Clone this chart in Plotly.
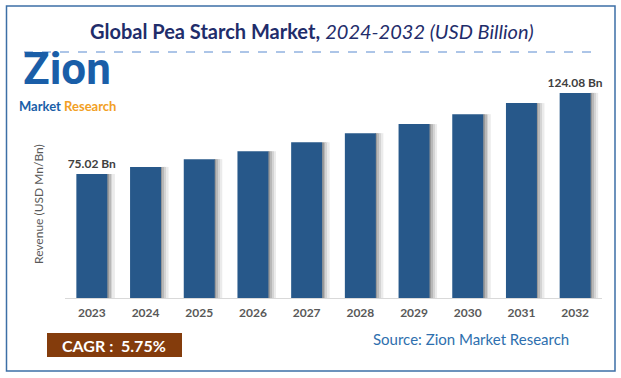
import plotly.graph_objects as go

years = ["2023", "2024", "2025", "2026", "2027", "2028", "2029", "2030", "2031", "2032"]
revenue = [75.02, 79.3, 84.0, 88.8, 94.2, 99.7, 105.2, 111.2, 117.9, 124.08]
label_text = ["75.02 Bn", "", "", "", "", "", "", "", "", "124.08 Bn"]

W, H = 621, 378
L, R, T, B = 65, 19, 75, 80
pw, ph = W - L - R, H - T - B


def px(x):
    return (x - L) / pw


def py(y):
    return (H - B - y) / ph


BAR = "#27588a"
FONT = "Lato"
bw = 0.577

fig = go.Figure()

shadow_cols = ["#999999", "#b8b8b8", "#d4d4d4", "#ebebeb"]
for k, c in enumerate(shadow_cols):
    fig.add_trace(go.Bar(
        x=years, y=revenue, width=0.035, offset=bw / 2 + k * 0.035,
        marker=dict(color=c, line=dict(width=0)), hoverinfo="skip", showlegend=False))

fig.add_trace(go.Bar(
    x=years, y=revenue, width=bw, offset=-bw / 2,
    marker=dict(color=BAR, line=dict(width=0)),
    text=label_text, textposition="outside", cliponaxis=False, constraintext="none",
    textfont=dict(family=FONT, size=12, color="#404040", weight="bold"),
    showlegend=False))

fig.update_layout(
    width=W, height=H, margin=dict(l=L, r=R, t=T, b=B),
    paper_bgcolor="white", plot_bgcolor="white", barmode="overlay",
    font=dict(family=FONT),
    xaxis=dict(showline=True, linecolor="#d9d9d9", linewidth=1, ticks="",
               tickfont=dict(family=FONT, size=12, color="#595959", weight="bold"),
               ticklabelstandoff=4,
               showgrid=False, range=[-0.5, 9.5], fixedrange=True),
    yaxis=dict(visible=False, range=[0, ph / 1.653], showgrid=False),
)

shapes = [
    dict(type="rect", xref="paper", yref="paper", x0=px(6.5), x1=px(615), y0=py(371), y1=py(6),
         line=dict(color="#3c6fa6", width=1.5), fillcolor="rgba(0,0,0,0)"),
    dict(type="line", xref="paper", yref="paper", x0=px(24), x1=px(596), y0=py(52), y1=py(52),
         line=dict(color="#5b8bd0", width=1, dash="dash")),
    dict(type="rect", xref="paper", yref="paper", x0=px(47), x1=px(182), y0=py(357), y1=py(333),
         line=dict(width=0), fillcolor="#843c0c"),
]
fig.update_layout(shapes=shapes)

ann = [
    dict(text="<b>Global Pea Starch Market,</b> <i>2024-2032 (USD Billion)</i>",
         x=px(312), y=py(31), font=dict(family=FONT, size=20, color="#1f2d6b")),
    dict(text="Revenue (USD Mn/Bn)", x=px(38), y=py(204), textangle=-90,
         font=dict(family=FONT, size=12, color="#595959")),
    dict(text="<b>CAGR :  5.75%</b>", x=px(114), y=py(345),
         font=dict(family=FONT, size=16, color="white")),
    dict(text="Source: Zion Market Research", x=px(471), y=py(339),
         font=dict(family=FONT, size=15, color="#2e6fae")),
    dict(text="<b>Zion</b>", x=px(67), y=py(97), yanchor="bottom",
         font=dict(family="Roboto", size=44, color="#1a5ea8")),
    dict(text="<b><span style='color:#1a5ea8'>Market</span> <span style='color:#f2a024'>Research</span></b>",
         x=px(67), y=py(96), yanchor="top", font=dict(family=FONT, size=13, color="#1a5ea8")),
]
for a in ann:
    a.setdefault("yanchor", "middle")
    a.update(xref="paper", yref="paper", showarrow=False, xanchor="center")
fig.update_layout(annotations=ann)

fig.write_html("out.html", config={"displayModeBar": False},
               post_script="document.body.style.margin='0';")
